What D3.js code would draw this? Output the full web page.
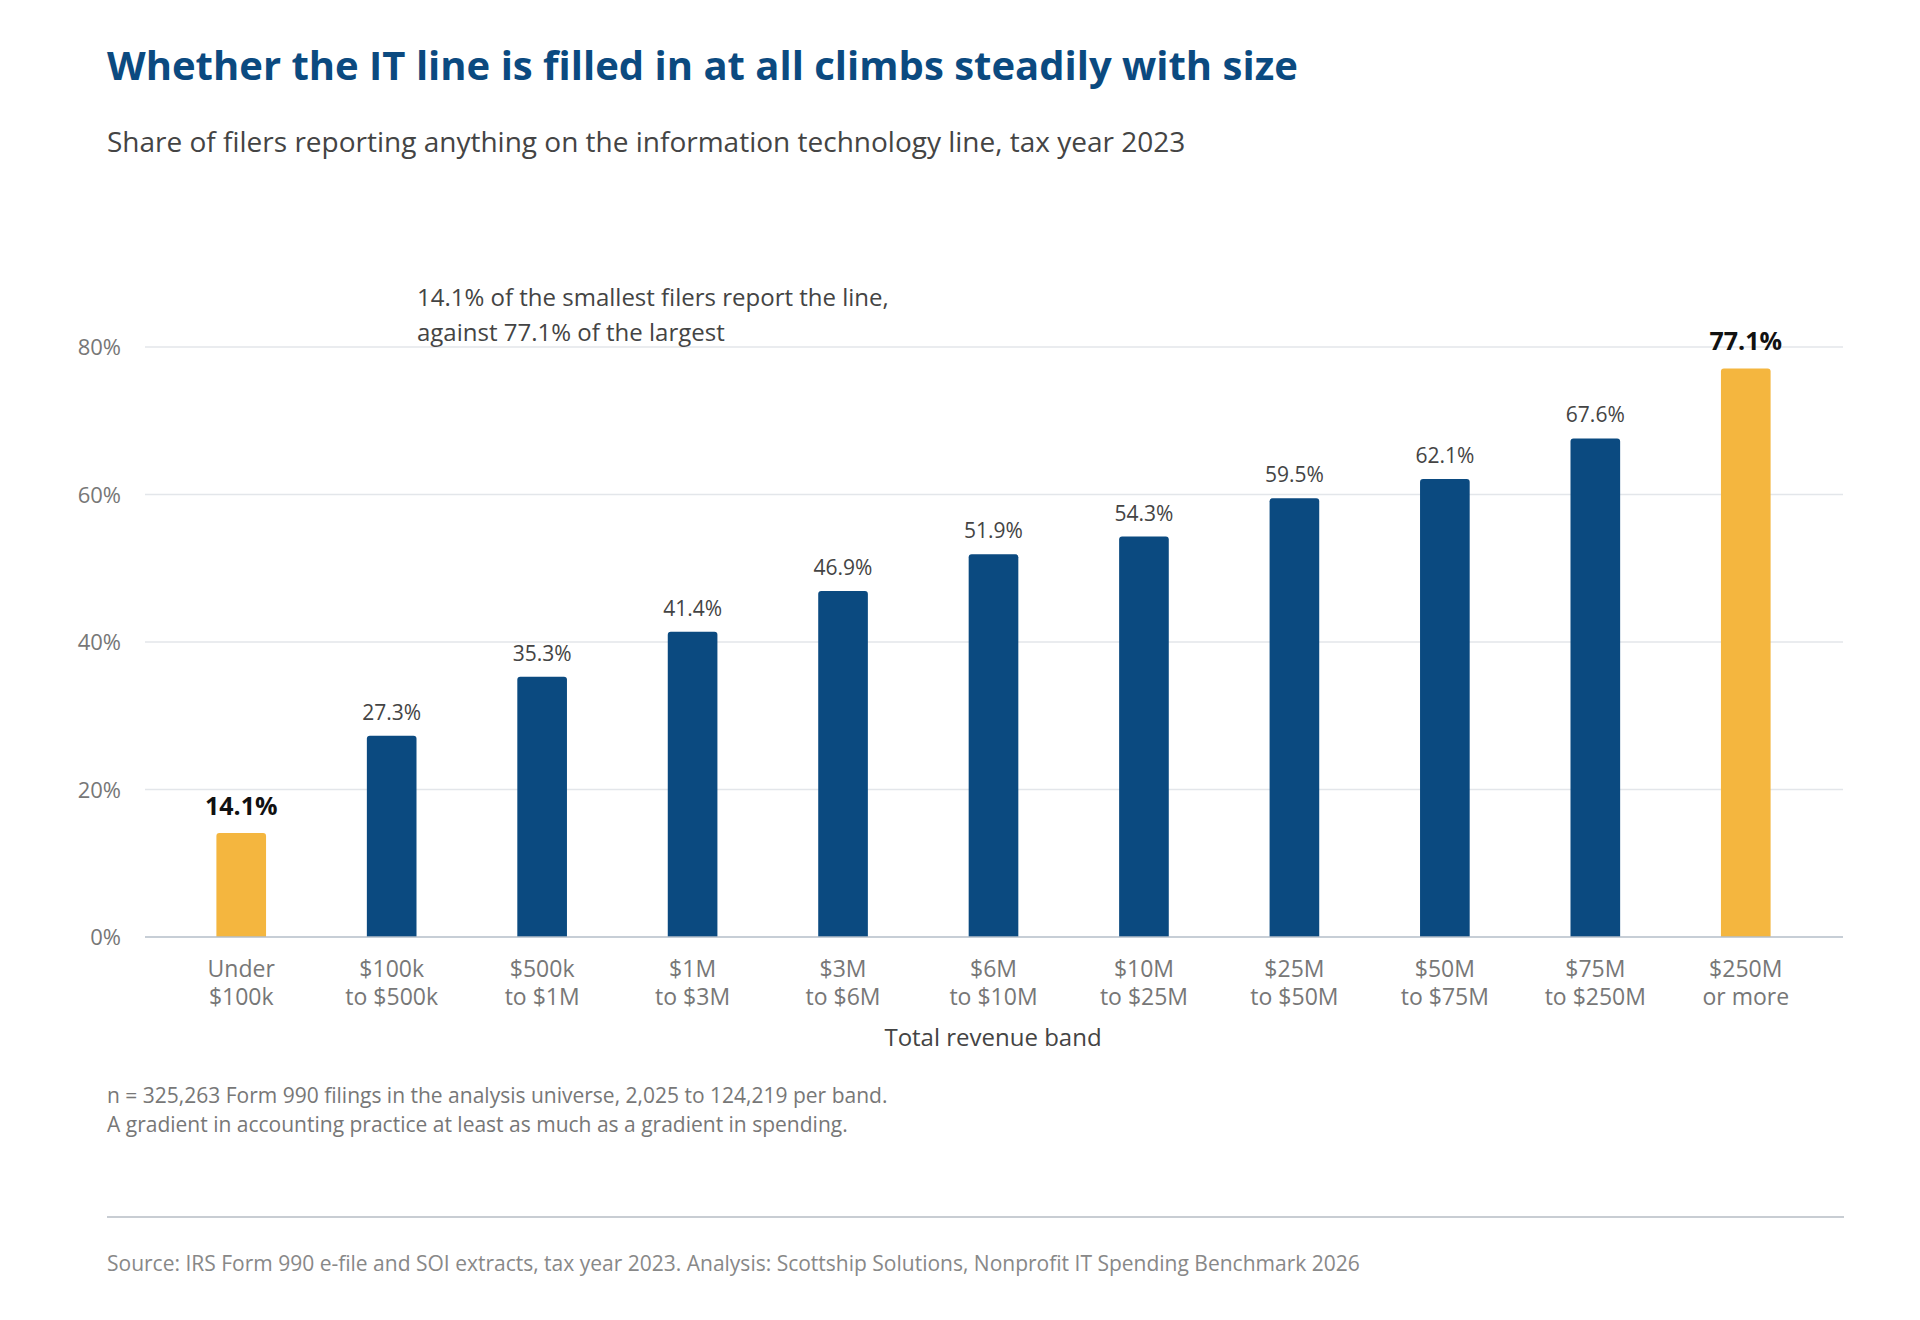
<!DOCTYPE html>
<html>
<head>
<meta charset="utf-8">
<script src="https://cdn.jsdelivr.net/npm/d3@7"></script>
<style>
  body { margin: 0; background: #fff; }
  text { font-family: "Open Sans", Lato, sans-serif; }
</style>
</head>
<body>
<svg id="chart" width="1920" height="1320"></svg>
<script>
const categories = ['Under|$100k', '$100k|to $500k', '$500k|to $1M', '$1M|to $3M', '$3M|to $6M',
  '$6M|to $10M', '$10M|to $25M', '$25M|to $50M', '$50M|to $75M', '$75M|to $250M', '$250M|or more'];
const values = [14.1, 27.3, 35.3, 41.4, 46.9, 51.9, 54.3, 59.5, 62.1, 67.6, 77.1];
const highlighted = ['Under|$100k', '$250M|or more'];
const yTicks = [0, 20, 40, 60, 80];

const svg = d3.select('#chart');
const navy = '#0b4a80', gold = '#f4b63f';

// header
svg.append('text').attr('x', 107).attr('y', 80)
  .attr('font-family', '"DejaVu Sans", sans-serif').attr('font-weight', 700).attr('font-size', 40)
  .attr('fill', navy).text('Whether the IT line is filled in at all climbs steadily with size');
svg.append('text').attr('x', 107).attr('y', 152).attr('font-size', 28).attr('fill', '#444')
  .text('Share of filers reporting anything on the information technology line, tax year 2023');

const x = d3.scaleBand().domain(categories).range([166, 1821]).paddingInner(0.67).paddingOuter(0.335);
const y = d3.scaleLinear().domain([0, 80]).range([937, 347]);

// grid
svg.append('g').selectAll('line').data(yTicks.filter(d => d > 0)).join('line')
  .attr('x1', 145).attr('x2', 1843).attr('y1', d => y(d)).attr('y2', d => y(d))
  .attr('stroke', '#e3e6ea').attr('stroke-width', 1.5);
svg.append('g').selectAll('text').data(yTicks).join('text')
  .attr('x', 121).attr('y', d => y(d) + 8).attr('text-anchor', 'end')
  .attr('font-size', 22).attr('fill', '#777').text(d => d + '%');

// bars
svg.append('g').selectAll('path').data(categories).join('path')
  .attr('d', (c, i) => {
    const x0 = x(c), w = x.bandwidth(), y0 = y(values[i]), r = 3;
    return `M${x0},${y(0)}V${y0 + r}Q${x0},${y0} ${x0 + r},${y0}H${x0 + w - r}Q${x0 + w},${y0} ${x0 + w},${y0 + r}V${y(0)}Z`;
  })
  .attr('fill', c => highlighted.includes(c) ? gold : navy);

svg.append('g').selectAll('text').data(categories).join('text')
  .attr('x', c => x(c) + x.bandwidth() / 2)
  .attr('y', (c, i) => y(values[i]) - (highlighted.includes(c) ? 18 : 16))
  .attr('text-anchor', 'middle')
  .attr('font-size', c => highlighted.includes(c) ? 25 : 21)
  .attr('font-weight', c => highlighted.includes(c) ? 700 : 400)
  .attr('fill', c => highlighted.includes(c) ? '#111' : '#444')
  .text((c, i) => values[i].toFixed(1) + '%');

// x axis
svg.append('line').attr('x1', 145).attr('x2', 1843).attr('y1', y(0)).attr('y2', y(0))
  .attr('stroke', '#b5bec8').attr('stroke-width', 1.5);
const xl = svg.append('g').selectAll('text').data(categories).join('text')
  .attr('x', c => x(c) + x.bandwidth() / 2).attr('y', 977)
  .attr('text-anchor', 'middle').attr('font-size', 23).attr('fill', '#777');
xl.selectAll('tspan').data(c => c.split('|')).join('tspan')
  .attr('x', function () { return this.parentNode.getAttribute('x'); })
  .attr('dy', (d, i) => i ? 28 : 0).text(d => d);
svg.append('text').attr('x', 993).attr('y', 1046).attr('text-anchor', 'middle')
  .attr('font-size', 24).attr('fill', '#444').text('Total revenue band');

// annotation
svg.append('text').attr('x', 417).attr('y', 306).attr('font-size', 24).attr('fill', '#444')
  .text('14.1% of the smallest filers report the line,');
svg.append('text').attr('x', 417).attr('y', 341).attr('font-size', 24).attr('fill', '#444')
  .text('against 77.1% of the largest');

// notes and source
svg.append('text').attr('x', 107).attr('y', 1103).attr('font-size', 21).attr('fill', '#777')
  .text('n = 325,263 Form 990 filings in the analysis universe, 2,025 to 124,219 per band.');
svg.append('text').attr('x', 107).attr('y', 1132).attr('font-size', 21).attr('fill', '#777')
  .text('A gradient in accounting practice at least as much as a gradient in spending.');
svg.append('line').attr('x1', 107).attr('x2', 1844).attr('y1', 1217).attr('y2', 1217)
  .attr('stroke', '#c8cdd3').attr('stroke-width', 2);
svg.append('text').attr('x', 107).attr('y', 1271).attr('font-size', 21).attr('fill', '#888')
  .text('Source: IRS Form 990 e-file and SOI extracts, tax year 2023. Analysis: Scottship Solutions, Nonprofit IT Spending Benchmark 2026');
</script>
</body>
</html>
